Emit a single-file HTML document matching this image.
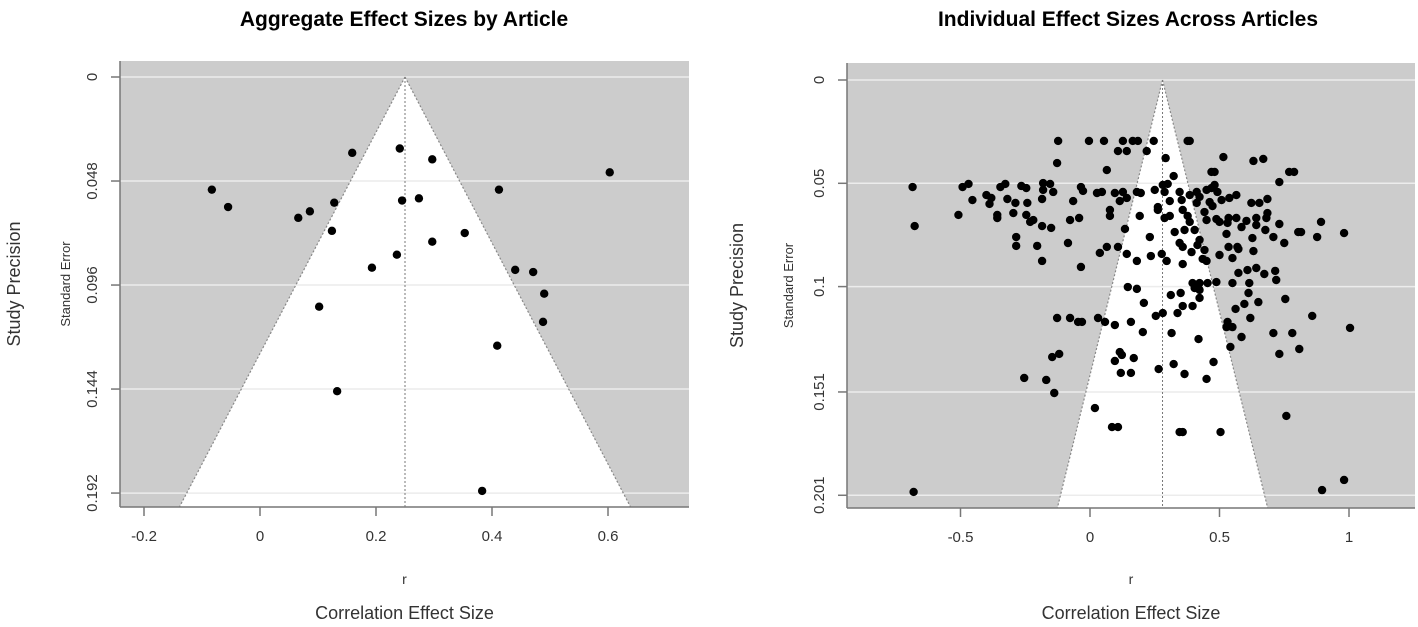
<!DOCTYPE html>
<html><head><meta charset="utf-8">
<style>
html,body{margin:0;padding:0;background:#fff;}
svg{display:block;font-family:"Liberation Sans",sans-serif;}
</style></head>
<body>
<svg id="chart" width="1418" height="627" viewBox="0 0 1418 627" xmlns="http://www.w3.org/2000/svg"></svg>
<script>
// ---- Left chart data ----
const leftR = [-0.083,-0.055,0.066,0.086,0.128,0.124,0.159,0.193,0.102,0.133,0.241,0.245,0.236,0.274,0.297,0.297,0.353,0.412,0.440,0.471,0.490,0.488,0.409,0.603,0.383];
const leftSE = [0.052,0.060,0.065,0.062,0.058,0.071,0.035,0.088,0.106,0.145,0.033,0.057,0.082,0.056,0.038,0.076,0.072,0.052,0.089,0.090,0.100,0.113,0.124,0.044,0.191];
const leftXTicks = [-0.2,0,0.2,0.4,0.6];
const leftXTickLabels = ["-0.2","0","0.2","0.4","0.6"];
const leftYTicks = [0,0.048,0.096,0.144,0.192];
const leftYTickLabels = ["0","0.048","0.096","0.144","0.192"];
const leftCenter = 0.25;

// ---- Right chart data ----
const rightR = [-0.123,-0.004,0.054,0.127,0.165,0.185,0.246,0.108,0.142,0.219,-0.127,0.065,-0.685,-0.492,-0.469,-0.346,-0.327,-0.265,-0.246,-0.181,-0.154,-0.181,-0.142,-0.035,-0.027,0.027,0.046,0.096,0.127,0.181,0.196,0.250,-0.454,-0.400,-0.381,-0.388,-0.319,-0.288,-0.242,-0.185,-0.065,0.115,0.142,-0.508,-0.358,-0.358,-0.296,-0.246,-0.231,-0.219,-0.185,-0.150,-0.077,-0.042,0.077,0.077,0.192,-0.677,0.135,-0.285,-0.285,-0.204,-0.085,0.065,0.108,0.038,0.142,0.231,0.235,0.181,-0.185,-0.035,0.146,0.181,
0.377,0.385,0.292,0.515,0.631,0.669,0.469,0.481,0.769,0.788,0.323,0.731,0.281,0.300,0.288,0.346,0.354,0.308,0.385,0.412,0.423,0.450,0.469,0.481,0.492,0.508,0.538,0.565,0.623,0.654,0.685,0.412,0.462,0.473,0.262,0.262,0.358,0.288,0.308,0.377,0.385,0.442,0.450,0.488,0.500,0.535,0.565,0.531,0.604,0.642,0.642,0.681,0.685,0.731,0.585,0.527,0.677,0.627,0.708,0.804,0.815,0.877,0.892,0.981,0.750,0.327,0.365,0.404,0.346,0.358,0.423,0.415,0.392,0.442,0.535,0.569,0.573,0.631,0.277,0.296,0.358,0.435,0.450,0.500,0.550,0.608,0.642,0.673,0.715,0.719,0.573,0.396,0.423,0.454,0.488,0.550,0.615,
0.208,0.254,-0.127,-0.077,-0.046,-0.031,0.031,0.058,0.096,0.158,0.204,-0.146,-0.119,0.115,0.123,0.096,0.169,0.119,0.158,0.265,-0.254,-0.169,-0.138,0.019,0.085,0.108,-0.681,
0.312,0.350,0.423,0.396,0.358,0.404,0.423,0.612,0.650,0.596,0.562,0.754,0.858,1.004,0.281,0.338,0.531,0.527,0.550,0.619,0.315,0.419,0.585,0.708,0.781,0.542,0.731,0.808,0.323,0.365,0.450,0.477,0.758,0.346,0.358,0.504,0.981,0.896];
const rightSE = [0.0295,0.0295,0.0295,0.0295,0.0295,0.0295,0.0295,0.0344,0.0344,0.0344,0.0402,0.0436,0.0518,0.0518,0.0503,0.0518,0.0503,0.0513,0.0523,0.0499,0.0503,0.0532,0.0542,0.0518,0.0537,0.0547,0.0542,0.0547,0.0542,0.0542,0.0547,0.0532,0.0581,0.0557,0.0571,0.0600,0.0576,0.0595,0.0595,0.0576,0.0586,0.0586,0.0571,0.0653,0.0653,0.0668,0.0644,0.0653,0.0687,0.0678,0.0707,0.0716,0.0678,0.0668,0.0629,0.0658,0.0658,0.0707,0.0721,0.0760,0.0803,0.0803,0.0789,0.0808,0.0808,0.0837,0.0842,0.0760,0.0852,0.0876,0.0876,0.0905,0.1002,0.1011,
0.0295,0.0295,0.0378,0.0373,0.0392,0.0382,0.0445,0.0445,0.0445,0.0445,0.0465,0.0494,0.0508,0.0503,0.0542,0.0542,0.0581,0.0586,0.0557,0.0542,0.0566,0.0532,0.0523,0.0508,0.0542,0.0581,0.0571,0.0557,0.0595,0.0595,0.0576,0.0595,0.0591,0.0610,0.0615,0.0629,0.0629,0.0668,0.0658,0.0658,0.0687,0.0639,0.0678,0.0673,0.0687,0.0668,0.0668,0.0692,0.0682,0.0668,0.0702,0.0668,0.0644,0.0697,0.0712,0.0745,0.0726,0.0765,0.0760,0.0736,0.0736,0.0760,0.0687,0.0741,0.0789,0.0736,0.0726,0.0726,0.0789,0.0808,0.0774,0.0799,0.0833,0.0823,0.0808,0.0808,0.0818,0.0828,0.0842,0.0876,0.0891,0.0866,0.0876,0.0847,0.0862,0.0920,0.0910,0.0939,0.0924,0.0968,0.0934,0.0983,0.0983,0.0983,0.0978,0.0983,0.0983,
0.1079,0.1142,0.1152,0.1152,0.1171,0.1171,0.1152,0.1171,0.1186,0.1171,0.1220,0.1341,0.1326,0.1317,0.1331,0.1360,0.1346,0.1418,0.1418,0.1399,0.1442,0.1452,0.1515,0.1588,0.1680,0.1680,0.1994,
0.1041,0.1031,0.1055,0.1094,0.1094,0.1007,0.1016,0.1031,0.1075,0.1084,0.1108,0.1060,0.1142,0.1200,0.1128,0.1128,0.1171,0.1196,0.1196,0.1152,0.1225,0.1254,0.1244,0.1225,0.1225,0.1292,0.1326,0.1302,0.1375,0.1423,0.1447,0.1365,0.1626,0.1704,0.1704,0.1704,0.1936,0.1985];
const rightXTicks = [-0.5,0,0.5,1];
const rightXTickLabels = ["-0.5","0","0.5","1"];
const rightYTicks = [0,0.05,0.1,0.151,0.201];
const rightYTickLabels = ["0","0.05","0.1","0.151","0.201"];
const rightCenter = 0.28;

const NS = "http://www.w3.org/2000/svg";
const svg = document.getElementById('chart');
function mk(tag, attrs, parent, text){
  const e = document.createElementNS(NS, tag);
  for (const k in attrs) e.setAttribute(k, attrs[k]);
  if (text !== undefined) e.textContent = text;
  (parent || svg).appendChild(e);
  return e;
}

function drawPanel(cfg){
  const g = mk('g', {});
  
  
  const {x0,x1,y0,y1} = cfg.box;
  const sx = v => cfg.xOrigin + cfg.xScale * v;
  const sy = v => cfg.yOrigin + cfg.yScale * v;
  const bg = mk('rect', {x:x0, y:y0, width:x1-x0, height:y1-y0, fill:'#cccccc'}, g);
  
  
  // funnel
  const seBottom = (y1 - cfg.yOrigin) / cfg.yScale;
  const ax = sx(cfg.center), ay = sy(0);
  const lx = sx(cfg.center - 1.96*seBottom), rx = sx(cfg.center + 1.96*seBottom);
  const fun = mk('polygon', {points:`${ax},${ay} ${lx},${y1} ${rx},${y1}`, fill:'#ffffff'}, g);
  
  
  // gridlines
  cfg.yTicks.forEach((t) => {
    const gl = mk('line', {x1:x0, x2:x1, y1:sy(t), y2:sy(t), stroke:'#ececec', 'stroke-width':1.5}, g);
    
    
  });
  // funnel edges (above gridlines)
  mk('line', {x1:ax, y1:ay, x2:lx, y2:y1, stroke:'#888', 'stroke-width':1.2, 'stroke-dasharray':'2,2'}, g);
  mk('line', {x1:ax, y1:ay, x2:rx, y2:y1, stroke:'#888', 'stroke-width':1.2, 'stroke-dasharray':'2,2'}, g);
  const cl = mk('line', {x1:ax, y1:ay, x2:ax, y2:y1, stroke:'#777', 'stroke-width':1, 'stroke-dasharray':'2,2'}, g);
  
  
  // points
  cfg.r.forEach((v, i) => {
    const c = mk('circle', {cx:sx(v), cy:sy(cfg.se[i]), r:4.2, fill:'#000'}, g);
    
    
  });
  // axes
  mk('line', {x1:x0, x2:x1, y1:y1, y2:y1, stroke:'#777', 'stroke-width':1.5}, g);
  mk('line', {x1:x0, x2:x0, y1:y0, y2:y1, stroke:'#777', 'stroke-width':1.5}, g);
  cfg.xTicks.forEach((t, i) => {
    mk('line', {x1:sx(t), x2:sx(t), y1:y1, y2:y1+9, stroke:'#777', 'stroke-width':1.5}, g);
    const tl = mk('text', {x:sx(t), y:y1+34, 'font-size':15, fill:'#333', 'text-anchor':'middle'}, g, cfg.xLabels[i]);
    
    
  });
  cfg.yTicks.forEach((t, i) => {
    mk('line', {x1:x0-9, x2:x0, y1:sy(t), y2:sy(t), stroke:'#777', 'stroke-width':1.5}, g);
    const tl = mk('text', {x:0, y:0, 'font-size':15, fill:'#333', 'text-anchor':'middle', transform:`translate(${x0-23},${sy(t)}) rotate(-90)`}, g, cfg.yLabels[i]);
    
    
  });
  const title = mk('text', {x:cfg.titleX, y:26, 'font-size':21, 'font-weight':'bold', fill:'#000', 'text-anchor':'middle'}, g, cfg.title);
  
  
  const rl = mk('text', {x:(x0+x1)/2, y:584, 'font-size':14, fill:'#333', 'text-anchor':'middle'}, g, 'r');
  
  
  const xt = mk('text', {x:(x0+x1)/2, y:619, 'font-size':18, fill:'#333', 'text-anchor':'middle'}, g, 'Correlation Effect Size');
  
  
  const yt = mk('text', {x:0, y:0, 'font-size':18, fill:'#333', 'text-anchor':'middle', transform:`translate(${cfg.yTitleX},${(y0+y1)/2}) rotate(-90)`}, g, 'Study Precision');
  
  
  const ys = mk('text', {x:0, y:0, 'font-size':13, fill:'#333', 'text-anchor':'middle', transform:`translate(${cfg.yTitleX+50},${(y0+y1)/2}) rotate(-90)`}, g, 'Standard Error');
  
  
}

drawPanel({name:'aggregate-funnel-plot', box:{x0:120,x1:689,y0:61,y1:507},
  xOrigin:260, xScale:580, yOrigin:77, yScale:2167, center:leftCenter,
  r:leftR, se:leftSE, xTicks:leftXTicks, xLabels:leftXTickLabels, yTicks:leftYTicks, yLabels:leftYTickLabels,
  title:'Aggregate Effect Sizes by Article', titleX:404, yTitleX:20});
drawPanel({name:'individual-funnel-plot', box:{x0:847,x1:1415,y0:63,y1:508},
  xOrigin:1090, xScale:259, yOrigin:80, yScale:2066, center:rightCenter,
  r:rightR, se:rightSE, xTicks:rightXTicks, xLabels:rightXTickLabels, yTicks:rightYTicks, yLabels:rightYTickLabels,
  title:'Individual Effect Sizes Across Articles', titleX:1128, yTitleX:743});
</script>
</body></html>
